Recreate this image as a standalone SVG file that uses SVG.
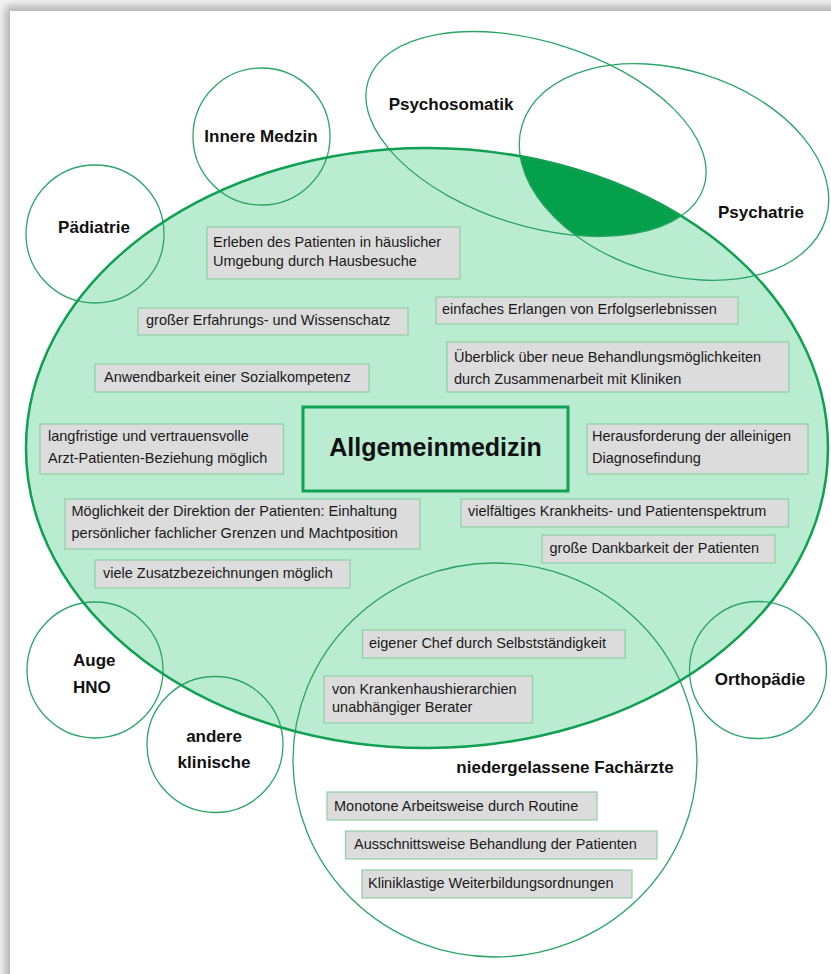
<svg xmlns="http://www.w3.org/2000/svg" width="831" height="974" viewBox="0 0 831 974">
<defs>
<style>
.ring{fill:none;stroke:#2ba566;stroke-width:1.3}
.box{fill:#dcdcdc;stroke:#8fcfa6;stroke-width:1.2}
.bt{font-family:"Liberation Sans",Arial,sans-serif;font-size:14.5px;fill:#1a1a1a}
.lbl{font-family:"Liberation Sans",Arial,sans-serif;font-size:17px;font-weight:bold;fill:#111}
</style>
<filter id="sh" x="-5%" y="-5%" width="110%" height="110%"><feGaussianBlur stdDeviation="4"/></filter>
</defs>
<rect x="0" y="0" width="831" height="974" fill="#f4f4f4"/>
<rect x="5" y="6" width="840" height="990" fill="#b0b0b0" filter="url(#sh)"/>
<rect x="10" y="11" width="831" height="974" fill="#ffffff"/>

<g id="allgemeinmedizin-area">
<ellipse cx="427" cy="448" rx="401" ry="300" fill="#b9ecd1"/>
</g>
<g id="overlap">
<clipPath id="cMain"><ellipse cx="427" cy="448" rx="401" ry="300"/></clipPath>
<clipPath id="cPS"><ellipse cx="536" cy="134" rx="176" ry="92" transform="rotate(17.5 536 134)"/></clipPath>
<g clip-path="url(#cMain)"><g clip-path="url(#cPS)">
<ellipse cx="674" cy="172" rx="159" ry="102" transform="rotate(17.4 674 172)" fill="#04a04b"/>
</g></g>
</g>

<g id="paediatrie"><circle cx="95" cy="234" r="69" class="ring"/><text x="94" y="233" text-anchor="middle" class="lbl">Pädiatrie</text></g>
<g id="innere-medizin"><circle cx="261.5" cy="136.5" r="68.5" class="ring"/><text x="261" y="142" text-anchor="middle" class="lbl">Innere Medzin</text></g>
<g id="psychosomatik"><ellipse cx="536" cy="134" rx="176" ry="92" transform="rotate(17.5 536 134)" class="ring"/><text x="451" y="110" text-anchor="middle" class="lbl">Psychosomatik</text></g>
<g id="psychatrie"><ellipse cx="674" cy="172" rx="159" ry="102" transform="rotate(17.4 674 172)" class="ring"/><text x="761" y="218" text-anchor="middle" class="lbl">Psychatrie</text></g>
<g id="auge-hno"><circle cx="95" cy="670" r="68" class="ring"/><text x="73" y="666" class="lbl">Auge</text><text x="73" y="693" class="lbl">HNO</text></g>
<g id="andere-klinische"><circle cx="215" cy="744.5" r="68" class="ring"/><text x="214" y="742" text-anchor="middle" class="lbl">andere</text><text x="214" y="768" text-anchor="middle" class="lbl">klinische</text></g>
<g id="orthopaedie"><circle cx="758" cy="670" r="68.5" class="ring"/><text x="760" y="685" text-anchor="middle" class="lbl">Orthopädie</text></g>
<g id="niedergelassene"><ellipse cx="495" cy="760" rx="202" ry="197" class="ring"/><text x="565" y="773" text-anchor="middle" class="lbl">niedergelassene Fachärzte</text></g>

<g id="allgemeinmedizin-outline"><ellipse cx="427" cy="448" rx="401" ry="300" fill="none" stroke="#11a052" stroke-width="2.5"/></g>

<g id="connectors"></g>

<g id="b1"><rect x="207" y="227" width="253" height="52" class="box"/><text x="213" y="247" class="bt">Erleben des Patienten in häuslicher</text><text x="213" y="266" class="bt">Umgebung durch Hausbesuche</text></g>
<g id="b2"><rect x="138" y="308" width="270" height="27" class="box"/><text x="146" y="325" class="bt">großer Erfahrungs- und Wissenschatz</text></g>
<g id="b3"><rect x="436" y="297" width="302" height="27" class="box"/><text x="442" y="314" class="bt">einfaches Erlangen von Erfolgserlebnissen</text></g>
<g id="b4"><rect x="95" y="364" width="274" height="28" class="box"/><text x="104" y="382" class="bt">Anwendbarkeit einer Sozialkompetenz</text></g>
<g id="b5"><rect x="447" y="342" width="342" height="50" class="box"/><text x="454" y="362" class="bt">Überblick über neue Behandlungsmöglichkeiten</text><text x="454" y="384" class="bt">durch Zusammenarbeit mit Kliniken</text></g>
<g id="center"><rect x="303" y="407" width="265" height="84" fill="#b9ecd1" stroke="#12a052" stroke-width="3"/><text x="435.5" y="456" text-anchor="middle" font-family="Liberation Sans, Arial, sans-serif" font-size="25" font-weight="bold" fill="#111">Allgemeinmedizin</text></g>
<g id="b6"><rect x="40" y="424" width="243.5" height="50" class="box"/><text x="48" y="441" class="bt">langfristige und vertrauensvolle</text><text x="48" y="463" class="bt">Arzt-Patienten-Beziehung möglich</text></g>
<g id="b7"><rect x="587" y="424" width="221" height="50" class="box"/><text x="592" y="441" class="bt">Herausforderung der alleinigen</text><text x="592" y="463" class="bt">Diagnosefindung</text></g>
<g id="b8"><rect x="65" y="499" width="355" height="50" class="box"/><text x="71.5" y="516" class="bt">Möglichkeit der Direktion der Patienten: Einhaltung</text><text x="71.5" y="538" class="bt">persönlicher fachlicher Grenzen und Machtposition</text></g>
<g id="b9"><rect x="461" y="499" width="327.5" height="28" class="box"/><text x="468" y="516" class="bt">vielfältiges Krankheits- und Patientenspektrum</text></g>
<g id="b10"><rect x="542" y="535" width="233" height="28" class="box"/><text x="549.5" y="553" class="bt">große Dankbarkeit der Patienten</text></g>
<g id="b11"><rect x="95" y="560" width="255" height="28" class="box"/><text x="103" y="578" class="bt">viele Zusatzbezeichnungen möglich</text></g>
<g id="b12"><rect x="362.5" y="630" width="262.5" height="28" class="box"/><text x="369" y="648" class="bt">eigener Chef durch Selbstständigkeit</text></g>
<g id="b13"><rect x="324" y="676" width="208.5" height="47" class="box"/><text x="332" y="694" class="bt">von Krankenhaushierarchien</text><text x="332" y="712" class="bt">unabhängiger Berater</text></g>
<g id="b14"><rect x="327" y="792" width="270" height="28" class="box"/><text x="334" y="811" class="bt">Monotone Arbeitsweise durch Routine</text></g>
<g id="b15"><rect x="345.5" y="831" width="311.5" height="28" class="box"/><text x="354" y="849" class="bt">Ausschnittsweise Behandlung der Patienten</text></g>
<g id="b16"><rect x="362" y="870" width="270" height="28" class="box"/><text x="368" y="888" class="bt">Kliniklastige Weiterbildungsordnungen</text></g>
</svg>
